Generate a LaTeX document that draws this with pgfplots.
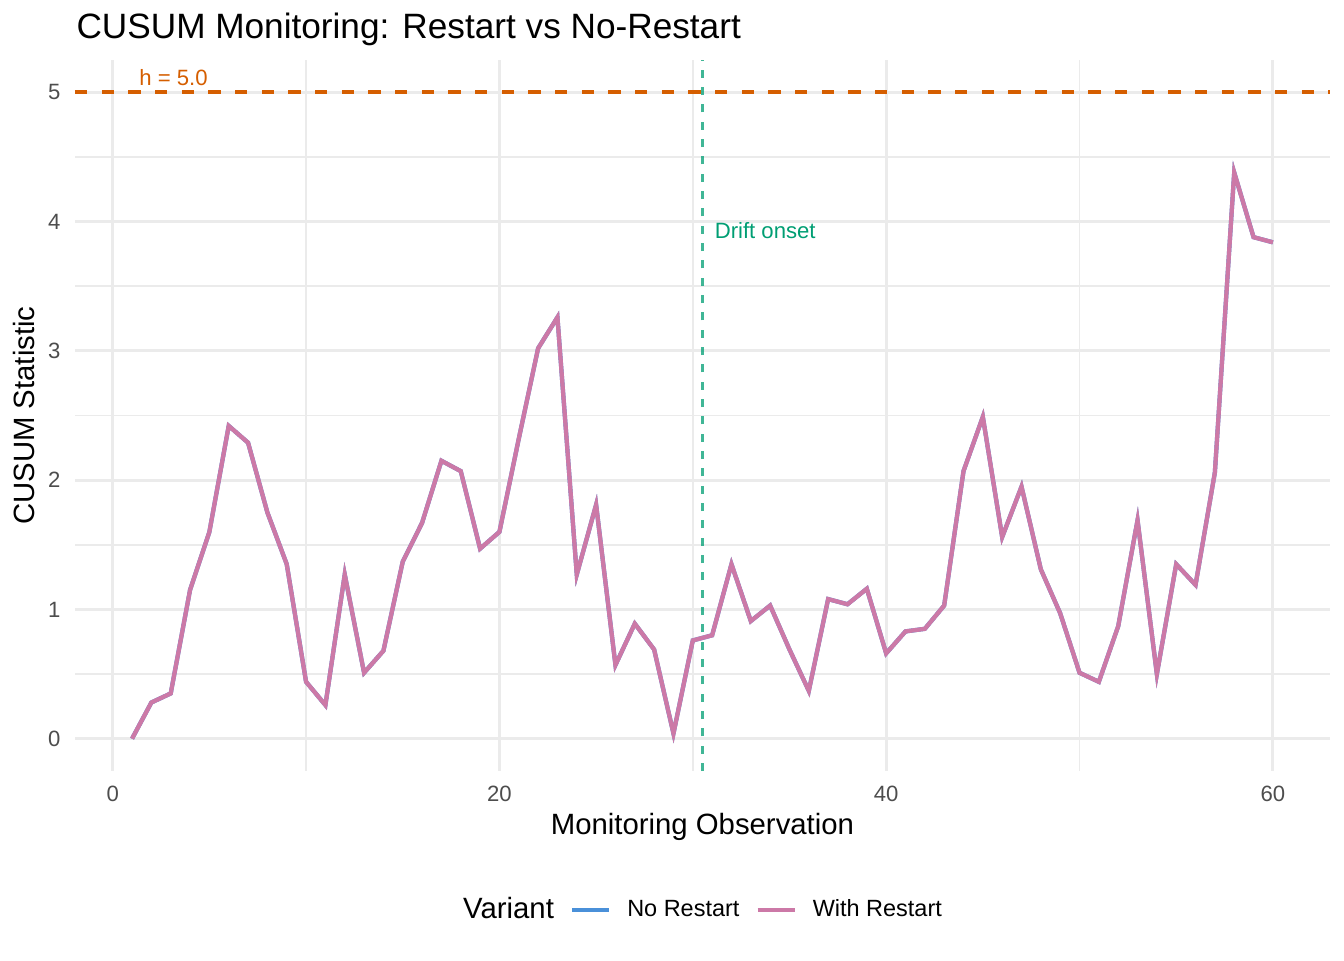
\documentclass[border=0pt]{standalone}
\usepackage{fontspec}
\setmainfont{Liberation Sans}
\usepackage{pgfplots}
\usepackage{pgfplotstable}
\pgfplotsset{compat=1.18}
\definecolor{noR}{HTML}{4A90D9}
\definecolor{withR}{HTML}{CC79A7}
\definecolor{hcol}{HTML}{D55E00}
\definecolor{dcol}{HTML}{009E73}
\definecolor{gridc}{HTML}{EBEBEB}
\definecolor{tickc}{HTML}{4D4D4D}
\pgfplotstableread{
x y
1 0.00
2 0.28
3 0.35
4 1.15
5 1.60
6 2.42
7 2.29
8 1.75
9 1.35
10 0.44
11 0.26
12 1.27
13 0.51
14 0.68
15 1.37
16 1.67
17 2.15
18 2.07
19 1.47
20 1.60
21 2.32
22 3.02
23 3.26
24 1.27
25 1.81
26 0.57
27 0.89
28 0.69
29 0.04
30 0.76
31 0.80
32 1.35
33 0.91
34 1.03
35 0.69
36 0.37
37 1.08
38 1.04
39 1.16
40 0.66
41 0.83
42 0.85
43 1.03
44 2.07
45 2.49
46 1.56
47 1.95
48 1.31
49 0.97
50 0.51
51 0.44
52 0.87
53 1.69
54 0.50
55 1.35
56 1.19
57 2.06
58 4.38
59 3.88
60 3.84
}\cusum
\begin{document}
\begin{tikzpicture}
\path[use as bounding box] (0,0) rectangle (504pt,360pt);
\begin{axis}[
  at={(28.125pt,70.875pt)}, anchor=south west,
  width=470.6pt, height=266.6pt, scale only axis,
  xmin=-1.95, xmax=62.95, ymin=-0.25, ymax=5.25,
  xtick={0,20,40,60}, minor xtick={10,30,50},
  ytick={0,1,2,3,4,5}, minor ytick={0.5,1.5,2.5,3.5,4.5},
  grid=both,
  major grid style={gridc, line width=1.1pt},
  minor grid style={gridc, line width=0.6pt},
  axis line style={draw=none},
  major tick length=0pt, minor tick length=0pt,
  tick style={draw=none},
  /pgf/number format/assume math mode=true,
  ticklabel style={font=\fontsize{8.3}{10}\selectfont, text=tickc, inner sep=0pt},
  xticklabel style={anchor=north, yshift=-5.6pt},
  yticklabel style={anchor=east, xshift=-5.25pt},
  xlabel={Monitoring Observation},
  xlabel style={font=\fontsize{11}{13}\selectfont, at={(axis description cs:0.5,-0.09)}, anchor=base, inner sep=0pt},
  ylabel={CUSUM Statistic},
  ylabel style={font=\fontsize{11}{13}\selectfont, at={(axis description cs:-0.03187,0.5)}, anchor=base, inner sep=0pt},
  legend style={at={(axis description cs:0.6912,-0.1955)}, anchor=east, draw=none, fill=none,
    legend columns=-1, inner sep=0pt, column sep=6pt,
    font=\fontsize{8.8}{10}\selectfont, nodes={inner sep=0pt}},
  legend image code/.code={\draw[#1] (0pt,0pt) -- (13.9pt,0pt);},
]
\addlegendimage{empty legend}
\addlegendentry{\fontsize{11}{13}\selectfont Variant}
\addplot[noR, line width=1.6pt] table[x=x, y=y] {\cusum};
\addlegendentry{No Restart}
\addplot[withR, line width=1.6pt] table[x=x, y=y] {\cusum};
\addlegendentry{With Restart}
\addplot[hcol, line width=1.5pt, dash pattern=on 4.6pt off 5.4pt, forget plot] coordinates {(-1.95,5) (62.95,5)};
\addplot[dcol, opacity=0.75, line width=0.8pt, dash pattern=on 3pt off 3.5pt, forget plot] coordinates {(30.5,-0.25) (30.5,5.25)};
\node[anchor=base west, inner sep=0pt, text=hcol, font=\fontsize{8.3}{10}\selectfont, yshift=2.6pt] at (axis cs:1.35,5) {h = 5.0};
\node[anchor=base west, inner sep=0pt, text=dcol, font=\fontsize{8.3}{10}\selectfont] at (axis cs:31.11,3.87) {Drift onset};
\end{axis}
\node[anchor=base west, inner sep=0pt, font=\fontsize{13.2}{15}\selectfont] at (28.5pt,345.4pt) {CUSUM Monitoring: Restart vs No-Restart};
\end{tikzpicture}
\end{document}
